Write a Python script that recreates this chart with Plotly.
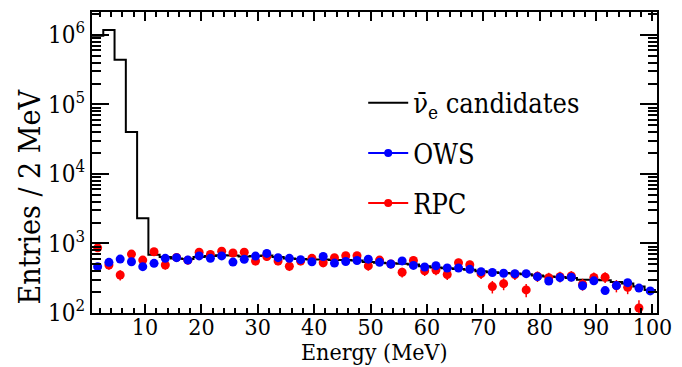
import numpy as np
import plotly.graph_objects as go

# ---------------- data ----------------
bin_width = 2.0
first_edge = 0.6
n_bins = 50
bin_edges = [first_edge + bin_width * i for i in range(n_bins + 1)]
bin_centers = [e + bin_width / 2 for e in bin_edges[:-1]]

candidates = [9.7e5, 1.18e6, 4.4e5, 4.0e4, 2.3e3, 690, 640, 610, 600, 640,
              660, 680, 670, 650, 660, 670, 640, 610, 600, 590,
              590, 580, 580, 570, 540, 530, 520, 510, 500, 470,
              450, 440, 430, 420, 400, 385, 375, 370, 360, 345,
              335, 330, 320, 300, 300, 295, 280, 265, 240, 215]

ows = [464, 535, 597, 546, 464, 518, 611, 625, 577, 662,
       611, 662, 540, 591, 659, 720, 625, 611, 585, 546,
       650, 522, 550, 570, 595, 535, 506, 561, 484, 459,
       478, 444, 444, 425, 393, 382, 373, 368, 368, 333,
       289, 323, 327, 247, 290, 210, 248, 273, 228, 208]

rpc = [865, 490, 352, 703, 577, 760, 490, 630, 575, 750,
       696, 776, 730, 750, 560, 650, 560, 470, 560, 611,
       528, 625, 665, 665, 476, 577, 506, 385, 570, 404,
       414, 358, 530, 495, 368, 240, 264, 358, 215, 337,
       322, 333, 342, 260, 325, 327, 248, 235, 118, None]

rpc_err = [None if v is None else float(np.sqrt(10 * v)) for v in rpc]
ows_err = [float(np.sqrt(2 * v)) for v in ows]

y_tick_vals = [1e2, 1e3, 1e4, 1e5, 1e6]
y_tick_text = ["10<sup>2</sup>", "10<sup>3</sup>", "10<sup>4</sup>", "10<sup>5</sup>", "10<sup>6</sup>"]

FONT = "DejaVu Serif Condensed, DejaVu Serif"
RED = "#ff0000"
BLUE = "#0000ff"

fig = go.Figure()

# step histogram
fig.add_trace(go.Scatter(
    x=bin_edges, y=candidates + [candidates[-1]],
    mode="lines", line=dict(color="black", width=2, shape="hv"),
    name="ν̄<sub>e</sub> candidates", legendgroup="a", legendrank=1,
))
fig.add_trace(go.Scatter(
    x=bin_centers, y=rpc, mode="markers",
    marker=dict(color=RED, size=9),
    error_y=dict(type="data", array=rpc_err, color=RED, thickness=1.5, width=0),
    name="RPC", showlegend=False,
))
fig.add_trace(go.Scatter(
    x=bin_centers, y=ows, mode="markers",
    marker=dict(color=BLUE, size=9),
    error_y=dict(type="data", array=ows_err, color=BLUE, thickness=1.5, width=0),
    name="OWS", showlegend=False,
))
# legend entries (line + marker, as in the reference legend)
fig.add_trace(go.Scatter(
    x=[None], y=[None], mode="lines+markers",
    line=dict(color=BLUE, width=2), marker=dict(color=BLUE, size=8),
    name="OWS", legendgroup="b", legendrank=2,
))
fig.add_trace(go.Scatter(
    x=[None], y=[None], mode="lines+markers",
    line=dict(color=RED, width=2), marker=dict(color=RED, size=8),
    name="RPC", legendgroup="c", legendrank=3,
))

fig.update_layout(
    width=682, height=367,
    margin=dict(l=92, r=14, t=10, b=54),
    paper_bgcolor="white", plot_bgcolor="white",
    font=dict(family=FONT, size=24, color="black"),
    showlegend=True,
    legend=dict(x=0.48, y=0.778, xanchor="left", yanchor="top",
                bgcolor="rgba(0,0,0,0)", font=dict(size=27, family=FONT),
                tracegroupgap=12, itemwidth=40),
    xaxis=dict(range=[first_edge, 100.8], showgrid=False, zeroline=False,
               showline=True, linecolor="black", linewidth=2, mirror="ticks",
               ticks="inside", ticklen=9, tickwidth=1.5, tickcolor="black",
               tick0=0, dtick=10, ticklabeloverflow="allow", ticklabelstandoff=-8,
               minor=dict(ticks="inside", ticklen=5, dtick=2, tick0=0, tickcolor="black", tickwidth=1.5),
               tickfont=dict(size=23, family=FONT)),
    yaxis=dict(type="log", range=[2, 6.33], showgrid=False, zeroline=False,
               showline=True, linecolor="black", linewidth=2, mirror="ticks",
               ticks="inside", ticklen=17, tickwidth=1.5, tickcolor="black",
               tickvals=y_tick_vals, ticktext=y_tick_text,
               minor=dict(ticks="inside", ticklen=9, dtick="D1", tickcolor="black", tickwidth=1.5),
               tickfont=dict(size=24, family=FONT)),
    annotations=[
        dict(text="Energy (MeV)", xref="paper", yref="paper", x=0.5, y=-0.13,
             xanchor="center", yanchor="middle", showarrow=False,
             font=dict(size=23, family=FONT)),
        dict(text="Entries / 2 MeV", xref="paper", yref="paper", x=-0.111, y=0.385,
             xanchor="center", yanchor="middle", showarrow=False, textangle=-90,
             font=dict(size=30, family=FONT)),
    ],
)

fig.write_html("out.html")
